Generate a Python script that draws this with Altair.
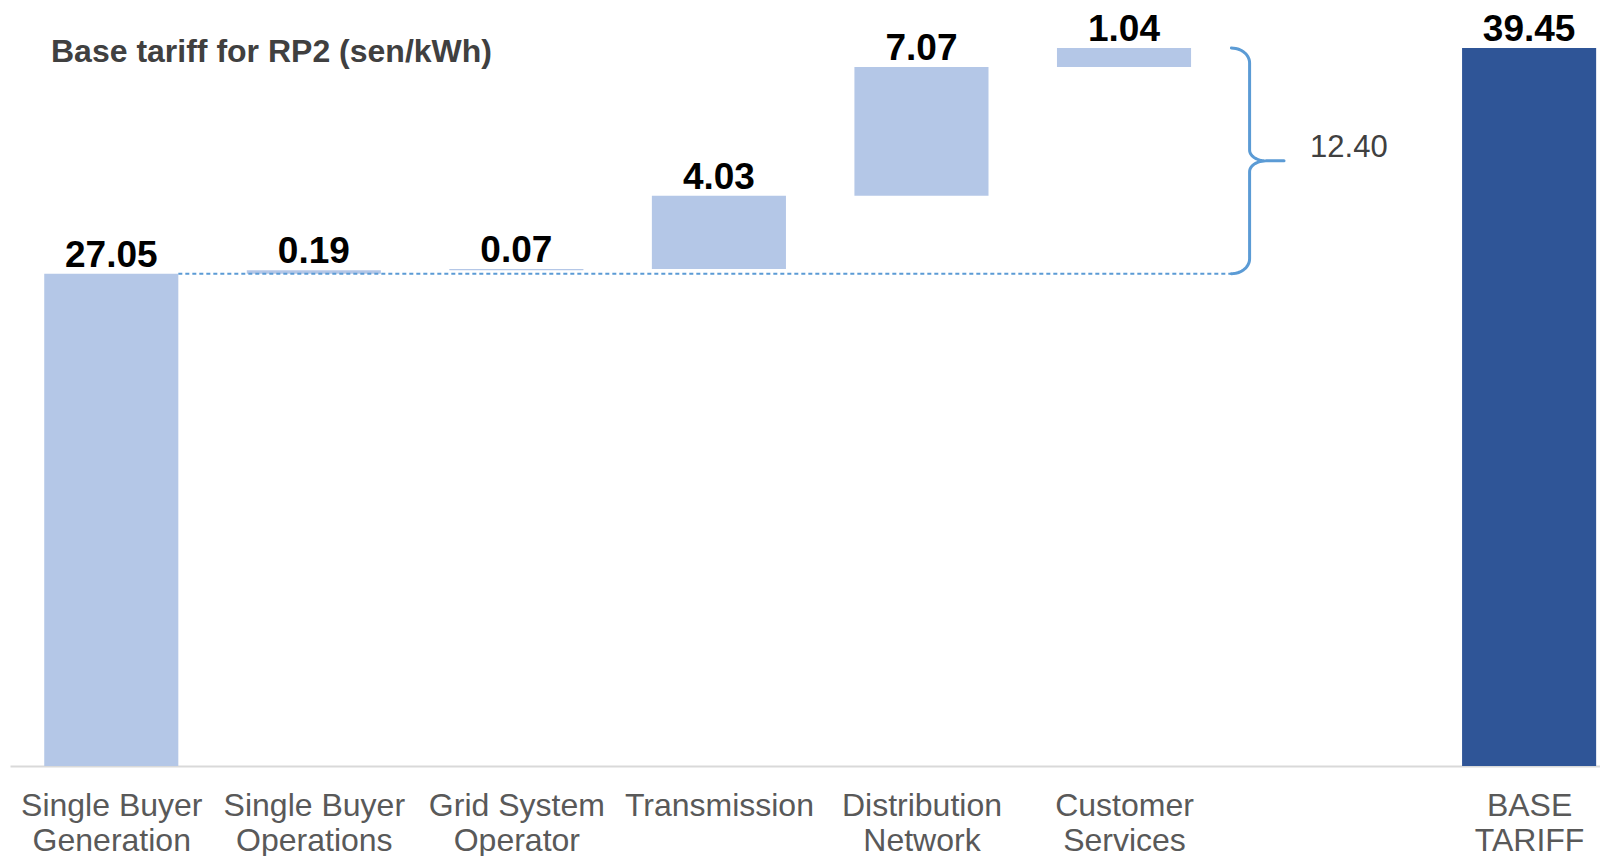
import altair as alt
import numpy as np
import pandas as pd

# ---------------- data ----------------
categories = [
    "Single Buyer Generation",
    "Single Buyer Operations",
    "Grid System Operator",
    "Transmission",
    "Distribution Network",
    "Customer Services",
    "BASE TARIFF",
]
axis_lines = [
    ["Single Buyer", "Generation"],
    ["Single Buyer", "Operations"],
    ["Grid System", "Operator"],
    ["Transmission"],
    ["Distribution", "Network"],
    ["Customer", "Services"],
    ["BASE", "TARIFF"],
]
values = [27.05, 0.19, 0.07, 4.03, 7.07, 1.04, 39.45]
kinds = ["step", "step", "step", "step", "step", "step", "total"]
bracket_label = "12.40"
title_text = "Base tariff for RP2 (sen/kWh)"

# ---------------- layout constants ----------------
GAP_BEFORE_TOTAL = 1      # one empty slot before the total bar
BAR_HALF = 0.331          # half bar width in slot units
HOOK_X = 5.53             # end of dashed line / brace hooks
BRACE_X = 5.62            # brace vertical stroke
TIP_X = 5.79              # brace tip
LABEL_X = 6.11            # bracket label centre

# ---------------- build waterfall table ----------------
rows = []
running = 0.0
slot = 0
for c, v, k in zip(categories, values, kinds):
    if k == "total":
        slot += GAP_BEFORE_TOTAL
        start, end = 0.0, v
    else:
        start, end = running, running + v
        running = end
    rows.append(dict(cat=c, slot=slot, start=start, end=end,
                     top=max(start, end), label=f"{v:.2f}", kind=k))
    slot += 1
df = pd.DataFrame(rows)

# label expression: nested conditional returning multi-line arrays
expr = "''"
for r, lines in reversed(list(zip(rows, axis_lines))):
    arr = "[" + ",".join("'" + s + "'" for s in lines) + "]"
    expr = f"(round(datum.value) == {r['slot']} ? {arr} : {expr})"
label_expr = expr
tick_values = [r["slot"] for r in rows]

top_val = values[-1]
base_val = values[0]
mid_val = (top_val + base_val) / 2

xscale = alt.Scale(domain=[-0.5, 7.35], nice=False, zero=False)
yscale = alt.Scale(domain=[0, 41.65], nice=False, zero=True)
FONT = "Liberation Sans"

x_axis = alt.Axis(values=tick_values, labelExpr=label_expr,
                  ticks=False, grid=False,
                  domainColor="#d9d9d9", domainWidth=2,
                  labelFont=FONT, labelFontSize=32,
                  labelColor="#595959", labelLineHeight=35,
                  labelPadding=24, labelOverlap=False,
                  labelFlush=False, labelAlign="center",
                  labelBaseline="top", labelLimit=0)

bars = alt.Chart(df).transform_calculate(
    x0=f"datum.slot - {BAR_HALF}", x1=f"datum.slot + {BAR_HALF}"
).mark_bar(strokeWidth=0).encode(
    x=alt.X("x0:Q", scale=xscale, title=None, axis=x_axis),
    x2="x1:Q",
    y=alt.Y("start:Q", scale=yscale, axis=None),
    y2="end:Q",
    color=alt.Color("kind:N", legend=None,
                    scale=alt.Scale(domain=["step", "total"],
                                    range=["#b4c7e7", "#2f5597"])),
)

value_labels = alt.Chart(df).mark_text(
    dy=-7, baseline="alphabetic", align="center", font=FONT,
    fontSize=37, fontWeight="bold", color="black"
).encode(
    x=alt.X("slot:Q", scale=xscale, title=None, axis=x_axis),
    y=alt.Y("top:Q", scale=yscale, axis=None),
    text="label:N",
)

dash_df = pd.DataFrame([dict(x=rows[0]["slot"] + BAR_HALF, x2=HOOK_X, y=base_val)])
dashed = alt.Chart(dash_df).mark_rule(
    color="#5b9bd5", strokeWidth=2, strokeDash=[4, 3]
).encode(
    x=alt.X("x:Q", scale=xscale, title=None, axis=x_axis),
    x2="x2:Q",
    y=alt.Y("y:Q", scale=yscale, axis=None),
)


def arc(cx, cy, rx, ry, a0, a1, n=14):
    t = np.radians(np.linspace(a0, a1, n))
    return list(zip(cx + rx * np.cos(t), cy + ry * np.sin(t)))


rx_h, ry_h = BRACE_X - HOOK_X, 0.82
rx_m, ry_m = 0.08, 0.6
pts = []
pts += arc(HOOK_X, top_val - ry_h, rx_h, ry_h, 90, 0)
pts += arc(BRACE_X + rx_m, mid_val + ry_m, rx_m, ry_m, 180, 270)
pts += [(TIP_X, mid_val), (BRACE_X + rx_m, mid_val)]
pts += arc(BRACE_X + rx_m, mid_val - ry_m, rx_m, ry_m, 90, 180)
pts += arc(HOOK_X, base_val + ry_h, rx_h, ry_h, 0, -90)
brace_df = pd.DataFrame([dict(k=i, x=float(p[0]), y=float(p[1])) for i, p in enumerate(pts)])

brace = alt.Chart(brace_df).mark_line(
    color="#5b9bd5", strokeWidth=3, strokeCap="round", strokeJoin="round"
).encode(
    x=alt.X("x:Q", scale=xscale, title=None, axis=x_axis),
    y=alt.Y("y:Q", scale=yscale, axis=None),
    order="k:Q",
)

brace_label = alt.Chart(pd.DataFrame([dict(x=LABEL_X, y=mid_val, t=bracket_label)])).mark_text(
    align="center", baseline="alphabetic", dy=-4, font=FONT,
    fontSize=31, color="#404040"
).encode(
    x=alt.X("x:Q", scale=xscale, title=None, axis=x_axis),
    y=alt.Y("y:Q", scale=yscale, axis=None),
    text="t:N",
)

title = alt.Chart(pd.DataFrame([dict(t=title_text)])).mark_text(
    align="left", baseline="alphabetic", font=FONT, fontSize=32,
    fontWeight="bold", color="#404040"
).encode(
    x=alt.value(41), y=alt.value(53.5), text="t:N"
)

chart = alt.layer(bars, dashed, brace, value_labels, brace_label, title).properties(
    width=1590, height=758,
    autosize=alt.AutoSizeParams(type="none"),
    padding={"left": 2, "top": 0, "right": 0, "bottom": 90},
    background="white",
).configure_view(stroke=None)

chart.save("out.html", embed_options={"renderer": "svg", "actions": False})
